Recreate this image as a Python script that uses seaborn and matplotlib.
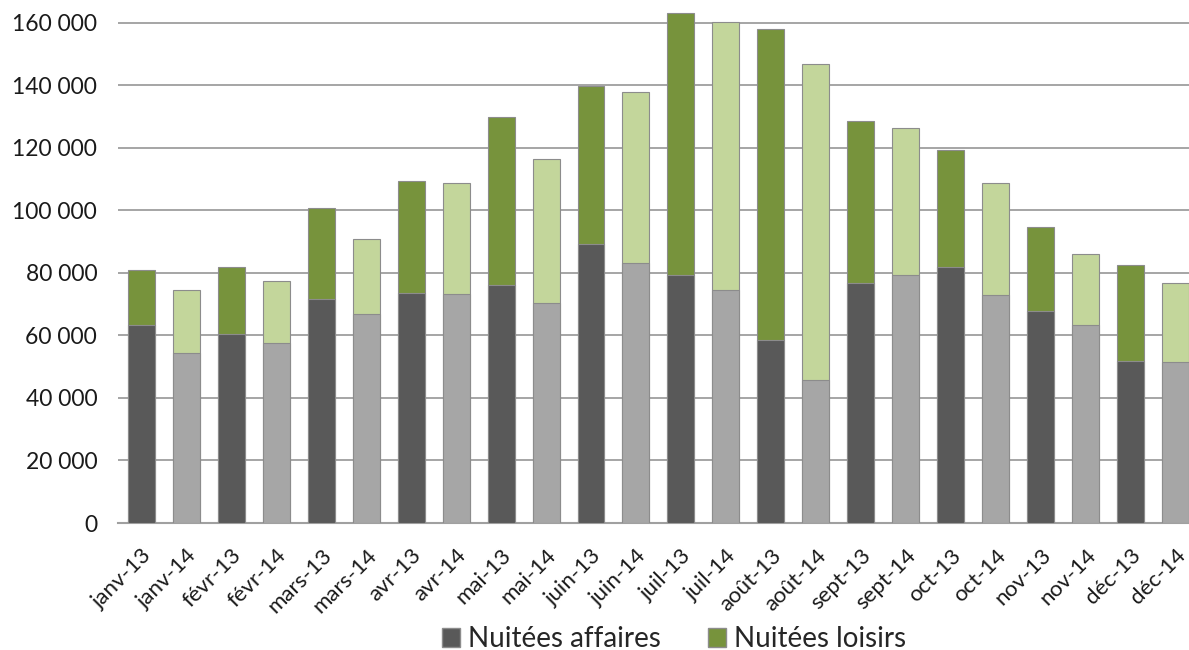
import numpy as np
import pandas as pd
import matplotlib
matplotlib.use("Agg")
import matplotlib.pyplot as plt
import seaborn as sns
from matplotlib.patches import Patch
from matplotlib.ticker import FuncFormatter

# values (nuitées)
months = ["janv-13", "janv-14", "févr-13", "févr-14", "mars-13", "mars-14",
          "avr-13", "avr-14", "mai-13", "mai-14", "juin-13", "juin-14",
          "juil-13", "juil-14", "août-13", "août-14", "sept-13", "sept-14",
          "oct-13", "oct-14", "nov-13", "nov-14", "déc-13", "déc-14"]
affaires = [63400, 54400, 60400, 57500, 71700, 66900,
            73700, 73300, 76200, 70500, 89300, 83100,
            79400, 74400, 58600, 45800, 76900, 79400,
            82000, 73000, 67900, 63400, 51900, 51400]
loisirs = [17400, 20200, 21600, 20000, 29100, 24000,
           35700, 35500, 53700, 46000, 50500, 54800,
           83700, 86000, 99400, 101000, 51800, 46900,
           37400, 35700, 26900, 22600, 30700, 25300]

dark_gray = "#595959"
light_gray = "#a6a6a6"
dark_green = "#77933c"
light_green = "#c3d69b"

df = pd.DataFrame({"mois": months, "affaires": affaires, "loisirs": loisirs})
df["total"] = df["affaires"] + df["loisirs"]

sns.set_theme(style="white")
plt.rcParams["font.family"] = ["Lato", "DejaVu Sans"]

fig = plt.figure(figsize=(11.89, 6.5), dpi=100)
ax = fig.add_axes([118 / 1189, 127 / 650, 1 - 118 / 1189, 522 / 650])

green_pal = {m: (dark_green if m.endswith("13") else light_green) for m in months}
gray_pal = {m: (dark_gray if m.endswith("13") else light_gray) for m in months}

# stacked look: total bar (loisirs colour) with affaires bar drawn over it
sns.barplot(data=df, x="mois", y="total", hue="mois", palette=green_pal,
            dodge=False, legend=False, width=0.6, saturation=1, ax=ax,
            edgecolor="#8c8c8c", linewidth=0.8, zorder=3)
sns.barplot(data=df, x="mois", y="affaires", hue="mois", palette=gray_pal,
            dodge=False, legend=False, width=0.6, saturation=1, ax=ax,
            edgecolor="#8c8c8c", linewidth=0.8, zorder=4)

ax.set_xlim(-0.52, 23.3)
ax.set_ylim(0, 167000)
ax.set_yticks(np.arange(0, 160001, 20000))
ax.yaxis.set_major_formatter(FuncFormatter(lambda v, p: f"{int(v):,}".replace(",", " ")))
ax.yaxis.grid(True, color="#969696", linewidth=1.2, zorder=0)
ax.set_axisbelow(True)

for s in ["top", "right", "left"]:
    ax.spines[s].set_visible(False)
ax.spines["bottom"].set_color("#a0a0a0")
ax.spines["bottom"].set_linewidth(1.5)

ax.set_xlabel("")
ax.set_ylabel("")
ax.tick_params(axis="y", labelsize=16.5, colors="#1a1a1a", pad=15, length=0)
ax.tick_params(axis="x", labelsize=16, colors="#1a1a1a", length=0, pad=16)
plt.setp(ax.get_xticklabels(), rotation=45, ha="right", rotation_mode="anchor")

handles = [Patch(facecolor=dark_gray, edgecolor="#8c8c8c", label="Nuitées affaires"),
           Patch(facecolor=dark_green, edgecolor="#8c8c8c", label="Nuitées loisirs")]
fig.legend(handles=handles, loc="center", bbox_to_anchor=(674 / 1189, 11 / 650),
           ncol=2, frameon=False, fontsize=20, handlelength=0.65, handleheight=0.65,
           handletextpad=0.3, columnspacing=1.7, borderpad=0, borderaxespad=0)

fig.savefig("out.png", dpi=100)
